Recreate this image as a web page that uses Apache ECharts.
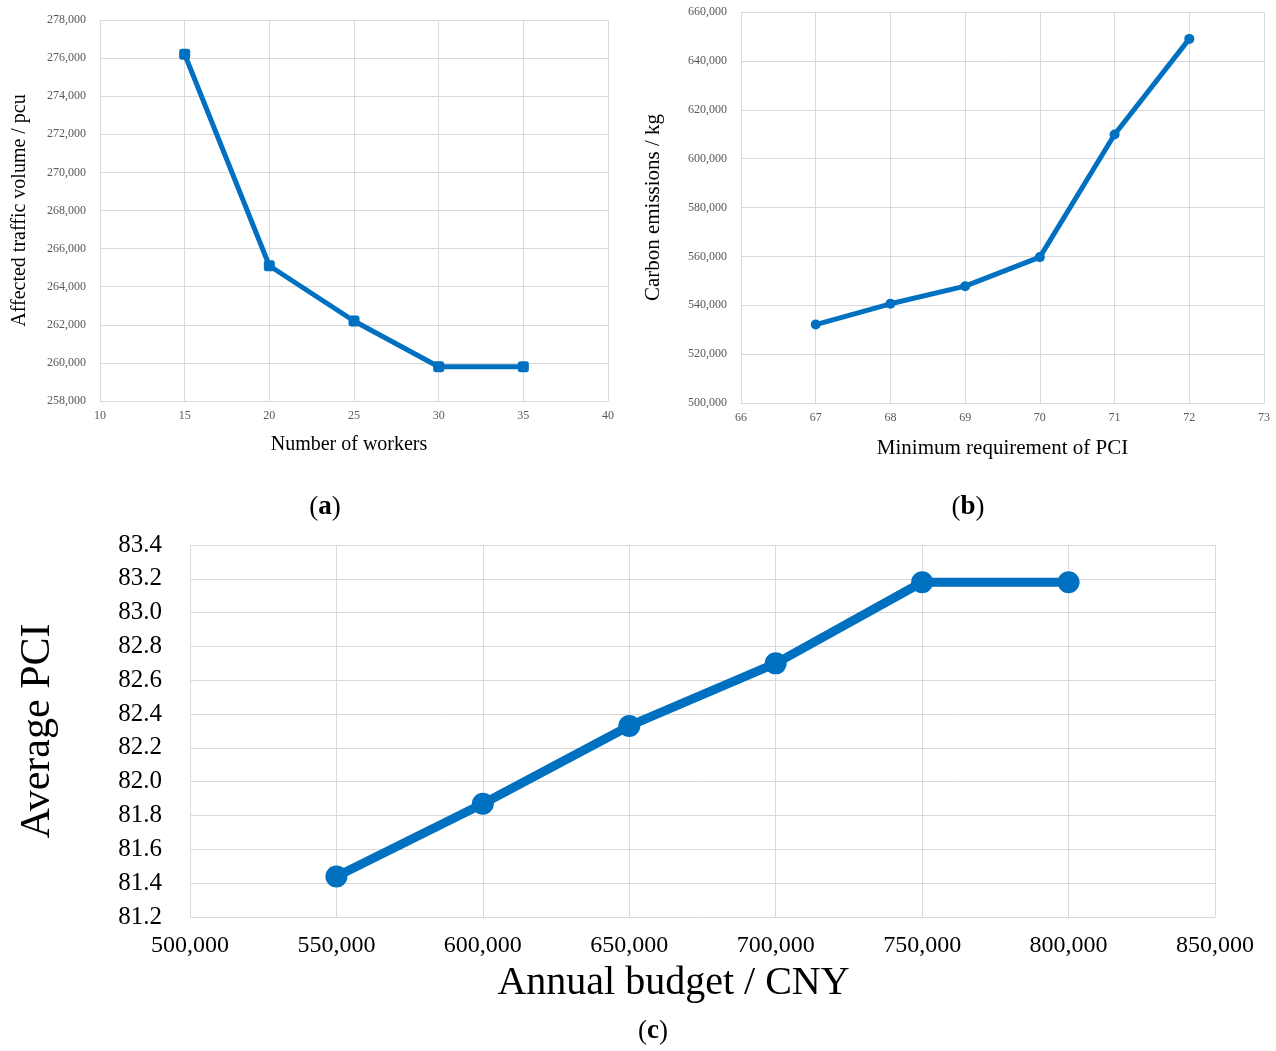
<!DOCTYPE html>
<html>
<head>
<meta charset="utf-8">
<script src="https://cdn.jsdelivr.net/npm/echarts@6/dist/echarts.min.js"></script>
<style>
html,body{margin:0;padding:0;background:#fff;}
#c{width:1276px;height:1051px;}
</style>
</head>
<body>
<div id="c"></div>
<script>
// Panel (a)
var workers = [15, 20, 25, 30, 35];
var trafficVolume = [276200, 265100, 262200, 259800, 259800];
// Panel (b)
var pciRequirement = [67, 68, 69, 70, 71, 72];
var carbonEmissions = [532100, 540600, 547800, 559700, 609900, 649000];
// Panel (c)
var annualBudget = [550000, 600000, 650000, 700000, 750000, 800000];
var averagePCI = [81.44, 81.87, 82.33, 82.70, 83.18, 83.18];

var blue = '#0070C0';
var serif = '"Liberation Serif","Times New Roman",serif';
var gridColor = '#d9d9d9';

function pairs(xs, ys){ return xs.map(function(x,i){ return [x, ys[i]]; }); }
function commas(v){ return Math.round(v).toLocaleString('en-US'); }

var chart = echarts.init(document.getElementById('c'));

function xAx(idx, min, max, interval, name, gap, fs, col, nfs, fmt, margin, namePad){
  return {
    type:'value', gridIndex:idx, min:min, max:max, interval:interval,
    name:name, nameLocation:'middle', nameGap:gap, nameMoveOverlap:false,
    nameTextStyle:{fontFamily:serif, fontSize:nfs, color:'#000', padding:namePad || 0},
    axisLine:{show:true, lineStyle:{color:gridColor, width:1}},
    axisTick:{show:false},
    splitLine:{show:true, lineStyle:{color:gridColor, width:1}},
    axisLabel:{fontFamily:serif, fontSize:fs, color:col, margin:margin, formatter:fmt}
  };
}
function yAx(idx, min, max, interval, name, gap, fs, col, nfs, fmt, margin){
  return {
    type:'value', gridIndex:idx, min:min, max:max, interval:interval,
    name:name, nameLocation:'middle', nameGap:gap, nameMoveOverlap:false,
    nameTextStyle:{fontFamily:serif, fontSize:nfs, color:'#000'},
    axisLine:{show:false},
    axisTick:{show:false},
    splitLine:{show:true, lineStyle:{color:gridColor, width:1}},
    axisLabel:{fontFamily:serif, fontSize:fs, color:col, margin:margin, formatter:fmt}
  };
}

var option = {
  animation:false,
  backgroundColor:'#fff',
  grid:[
    {left:100, top:20, width:508, height:381, containLabel:false, outerBoundsMode:'none'},
    {left:741, top:12, width:523, height:391, containLabel:false, outerBoundsMode:'none'},
    {left:190, top:545, width:1025, height:372, containLabel:false, outerBoundsMode:'none'}
  ],
  xAxis:[
    xAx(0, 10, 40, 5, 'Number of workers', 34, 12, '#595959', 20, function(v){return v;}, 9, [0, 10, 0, 0]),
    xAx(1, 66, 73, 1, 'Minimum requirement of PCI', 35, 12, '#595959', 21, function(v){return v;}, 9),
    xAx(2, 500000, 850000, 50000, 'Annual budget / CNY', 46, 24, '#000', 40, commas, 17, [0, 58, 0, 0])
  ],
  yAxis:[
    yAx(0, 258000, 278000, 2000, 'Affected traffic volume / pcu', 70, 12, '#595959', 20, commas, 14),
    yAx(1, 500000, 660000, 20000, 'Carbon emissions / kg', 77, 12, '#595959', 21, commas, 14),
    yAx(2, 81.2, 83.4, 0.2, 'Average PCI', 131, 25, '#000', 42, function(v){return v.toFixed(1);}, 28)
  ],
  series:[
    {type:'line', xAxisIndex:0, yAxisIndex:0, data:pairs(workers, trafficVolume),
     symbol:'roundRect', symbolSize:11, lineStyle:{color:blue, width:5}, itemStyle:{color:blue}},
    {type:'line', xAxisIndex:1, yAxisIndex:1, data:pairs(pciRequirement, carbonEmissions),
     symbol:'circle', symbolSize:10, lineStyle:{color:blue, width:5}, itemStyle:{color:blue}},
    {type:'line', xAxisIndex:2, yAxisIndex:2, data:pairs(annualBudget, averagePCI),
     symbol:'circle', symbolSize:22, lineStyle:{color:blue, width:9}, itemStyle:{color:blue}}
  ],
  title:[
    {text:'({b|a})', left:320, top:489, textAlign:'center',
     textStyle:{fontFamily:serif, fontSize:27, fontWeight:'normal', color:'#000', rich:{b:{fontFamily:serif, fontSize:27, fontWeight:'bold', color:'#000'}}}},
    {text:'({b|b})', left:963, top:489, textAlign:'center',
     textStyle:{fontFamily:serif, fontSize:27, fontWeight:'normal', color:'#000', rich:{b:{fontFamily:serif, fontSize:27, fontWeight:'bold', color:'#000'}}}},
    {text:'({b|c})', left:648, top:1013, textAlign:'center',
     textStyle:{fontFamily:serif, fontSize:27, fontWeight:'normal', color:'#000', rich:{b:{fontFamily:serif, fontSize:27, fontWeight:'bold', color:'#000'}}}}
  ]
};
chart.setOption(option);
</script>
</body>
</html>
